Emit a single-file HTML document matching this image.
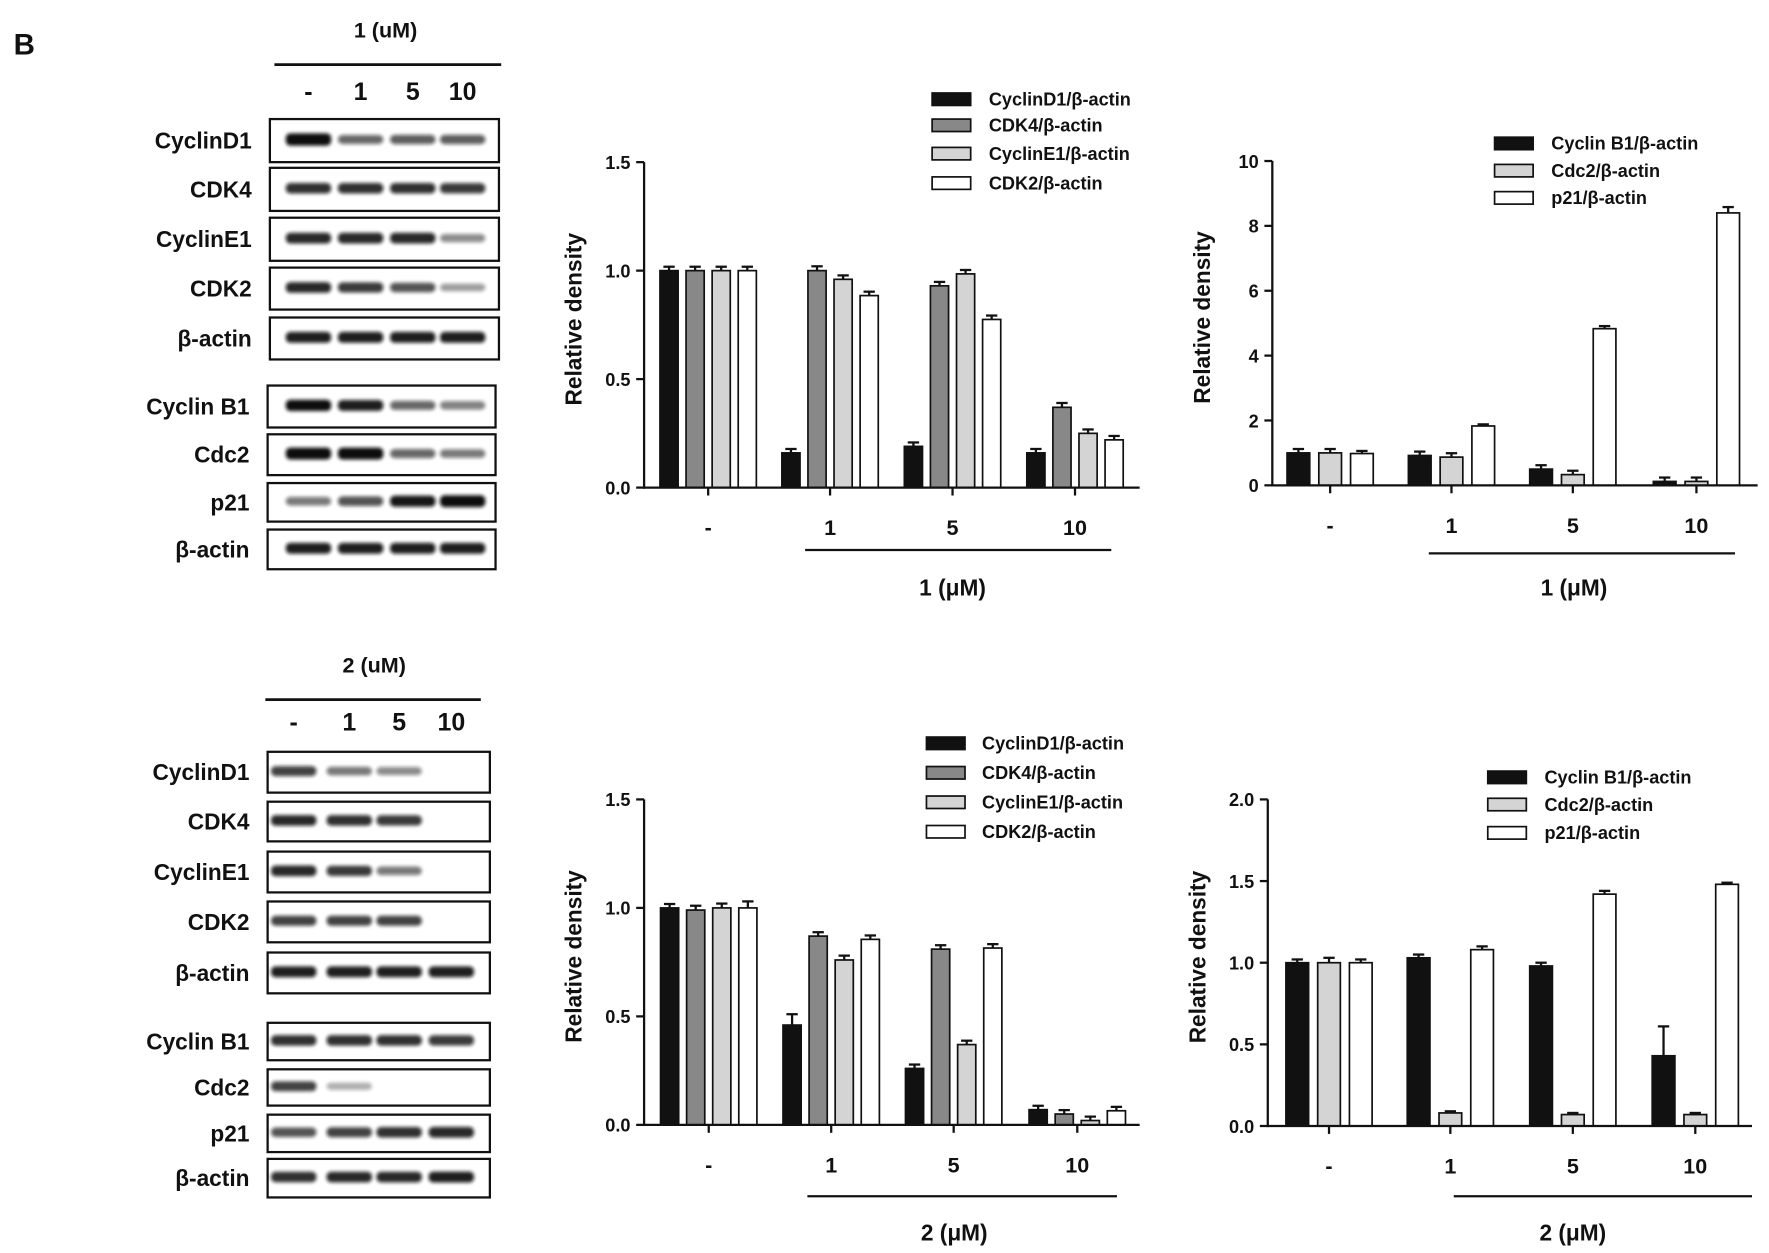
<!DOCTYPE html>
<html><head><meta charset="utf-8"><style>html,body{margin:0;padding:0;background:#fff}svg{display:block}text{font-family:"Liberation Sans",Arial,sans-serif;font-weight:bold;fill:#111}</style></head>
<body>
<svg id="s" width="1769" height="1253" viewBox="0 0 1560 1105" preserveAspectRatio="none" xmlns="http://www.w3.org/2000/svg">
<defs><filter id="bl" x="-20%" y="-50%" width="140%" height="200%"><feGaussianBlur stdDeviation="1.6"/></filter></defs>
<text x="12" y="48" font-size="26">B</text>
</svg>
<script>
const s=document.getElementById('s');let h='';
function T(x,y,t,sz,anc,extra){h+=`<text x="${x}" y="${y}" font-size="${sz}" text-anchor="${anc||'middle'}" ${extra||''}>${t}</text>`;}
function L(x1,y1,x2,y2,w){h+=`<line x1="${x1}" y1="${y1}" x2="${x2}" y2="${y2}" stroke="#111" stroke-width="${w||2}"/>`;}
function R(x,y,w,hh,f,sw){h+=`<rect x="${x}" y="${y}" width="${w}" height="${hh}" fill="${f}" stroke="#111" stroke-width="${sw||1.5}"/>`;}
function blot(title,tx,ty,lx1,lx2,lanes,ly,bx1,bx2,rows){
 T(tx,ty,title,19);L(lx1,ty+24,lx2,ty+24,2.5);
 ['-','1','5','10'].forEach((l,i)=>T(lanes[i],ly,l,22));
 rows.forEach(r=>{const [name,y1,y2,ints]=r;R(bx1,y1,bx2-bx1,y2-y1,'#fff',2);
  T(bx1-16,(y1+y2)/2+7,name,20,'end');
  ints.forEach((v,i)=>{if(v>0)h+=`<rect x="${lanes[i]-20}" y="${(y1+y2)/2-4-v*2}" width="40" height="${6+v*4}" rx="4" fill="#111" opacity="${Math.min(1,0.25+v*0.75)}" filter="url(#bl)"/>`;});});
}
blot('1 (uM)',340,33,242,442,[272,318,364,408],88,238,440,[
['CyclinD1',105,143,[1.2,.5,.55,.55]],['CDK4',148,186,[.8,.8,.8,.75]],['CyclinE1',192,230,[.85,.85,.85,.3]],['CDK2',236,273,[.85,.75,.6,.2]],['β-actin',280,317,[.9,.9,.9,.9]]]);
blot('',0,0,0,0,[272,318,364,408],-100,236,437,[
['Cyclin B1',340,377,[1,.9,.5,.35]],['Cdc2',383,419,[1.1,1.1,.5,.4]],['p21',426,460,[.4,.6,.95,1.1]],['β-actin',467,502,[.9,.9,.9,.9]]]);
blot('2 (uM)',330,593,234,424,[259,308,352,398],644,236,432,[
['CyclinD1',663,699,[.7,.4,.3,0]],['CDK4',707,742,[.85,.8,.75,0]],['CyclinE1',751,787,[.85,.75,.4,0]],['CDK2',795,831,[.7,.7,.7,0]],['β-actin',840,876,[.9,.9,.9,.9]]]);
blot('',0,0,0,0,[259,308,352,398],-100,236,432,[
['Cyclin B1',902,935,[.8,.8,.8,.75]],['Cdc2',943,975,[.7,.1,0,0]],['p21',983,1016,[.6,.7,.8,.85]],['β-actin',1022,1056,[.8,.85,.85,.9]]]);
// cleanup the empty title lines drawn at y=24
function chart(o){
 const {ax,x2,y0,ytop,ymax,ticks,groups,offs,bw,series,err,line,lab,leg}=o;
 const sc=(y0-ytop)/ymax;
 T(ax-50,(y0+ytop)/2,'Relative density',20,'middle',`transform="rotate(-90 ${ax-55} ${(y0+ytop)/2})"`);
 ticks.forEach(t=>{const y=y0-t*sc;L(ax-7,y,ax,y,2);T(ax-12,y+6,t.toFixed(t%1||ymax<5?1:0),16,'end');});
 series.forEach((s,si)=>{s.v.forEach((v,gi)=>{const cx=groups[gi]+offs[si];const y=y0-v*sc;
  const e=(err[si]&&err[si][gi])||0.012*ymax;
  L(cx,y,cx,y-e*sc,2);L(cx-5,y-e*sc,cx+5,y-e*sc,2);
  R(cx-bw/2,y,bw,v*sc,s.c,1.5);});});
 L(ax,ytop,ax,y0+1,2);L(ax,y0,x2,y0,2);
 ['-','1','5','10'].forEach((l,i)=>{L(groups[i],y0,groups[i],y0+7,2);T(groups[i],y0+42,l,19);});
 L(line[0],line[2],line[1],line[2],2);T((groups[1]+groups[3])/2,lab,o.title,20);
 leg.ys.forEach((y,i)=>{R(leg.x,y-5,34,11,series[i].c,1.5);T(leg.x+leg.dx,y+6,series[i].n,16,'start');});
}
const K='#111',G='#888',LG='#d4d4d4',W='#fff';
chart({ax:568,x2:1005,y0:430,ytop:143,ymax:1.5,ticks:[0,.5,1,1.5],groups:[624.5,732,840,948],offs:[-34.5,-11.5,11.5,34.5],bw:16,
 series:[{n:'CyclinD1/β-actin',c:K,v:[1,.16,.19,.16]},{n:'CDK4/β-actin',c:G,v:[1,1,.93,.37]},{n:'CyclinE1/β-actin',c:LG,v:[1,.96,.985,.25]},{n:'CDK2/β-actin',c:W,v:[1,.885,.775,.22]}],
 err:[[],[0,.02,0,.02]],line:[710,980,485],lab:525,title:'1 (μM)',leg:{x:822,dx:50,ys:[87,110,135,161]}});
chart({ax:1122,x2:1550,y0:428,ytop:142,ymax:10,ticks:[0,2,4,6,8,10],groups:[1173,1280,1387,1496],offs:[-28,0,28],bw:20,
 series:[{n:'Cyclin B1/β-actin',c:K,v:[1,.92,.5,.12]},{n:'Cdc2/β-actin',c:LG,v:[1,.87,.33,.12]},{n:'p21/β-actin',c:W,v:[.98,1.83,4.83,8.4]}],
 err:[[],[],[.08,.05,.08,.18]],line:[1260,1530,488],lab:525,title:'1 (μM)',leg:{x:1318,dx:50,ys:[126,150,174]}});
chart({ax:568,x2:1005,y0:992,ytop:705,ymax:1.5,ticks:[0,.5,1,1.5],groups:[625,733,841,950],offs:[-34.5,-11.5,11.5,34.5],bw:16,
 series:[{n:'CyclinD1/β-actin',c:K,v:[1,.46,.26,.07]},{n:'CDK4/β-actin',c:G,v:[.99,.87,.81,.05]},{n:'CyclinE1/β-actin',c:LG,v:[1,.76,.37,.02]},{n:'CDK2/β-actin',c:W,v:[1,.855,.815,.065]}],
 err:[[0,.05],[.02],[.02,.02],[.03]],line:[712,985,1055],lab:1094,title:'2 (μM)',leg:{x:817,dx:49,ys:[655,681,707,733]}});
chart({ax:1118,x2:1545,y0:993,ytop:705,ymax:2,ticks:[0,.5,1,1.5,2],groups:[1172,1279,1387,1495],offs:[-28,0,28],bw:20,
 series:[{n:'Cyclin B1/β-actin',c:K,v:[1,1.03,.98,.43]},{n:'Cdc2/β-actin',c:LG,v:[1,.08,.07,.07]},{n:'p21/β-actin',c:W,v:[1,1.08,1.42,1.48]}],
 err:[[.02,.02,.02,.18],[.03,.01,.01,.01],[.02,.02,.02,.01]],line:[1282,1545,1055],lab:1094,title:'2 (μM)',leg:{x:1312,dx:50,ys:[685,709,734]}});
s.insertAdjacentHTML('beforeend',h);
</script>
</body></html>
